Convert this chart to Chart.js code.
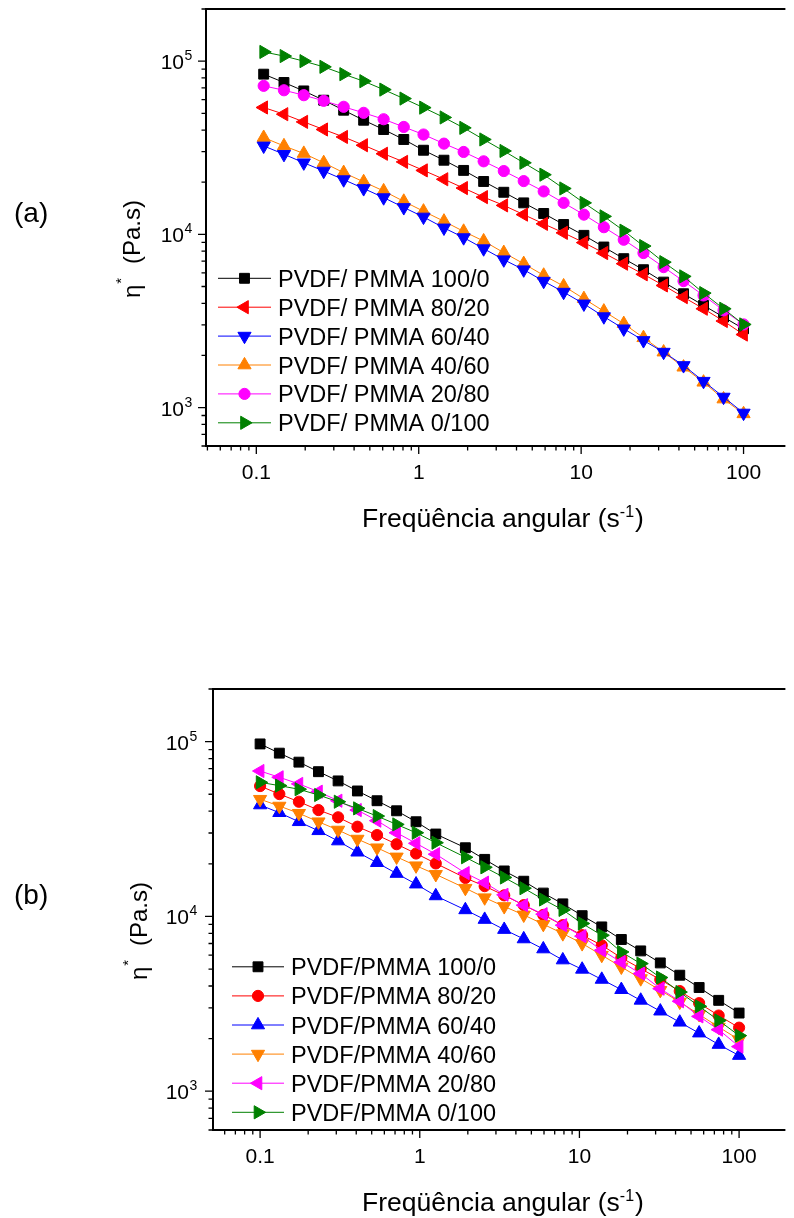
<!DOCTYPE html>
<html>
<head>
<meta charset="utf-8">
<title>Viscosidade complexa PVDF/PMMA</title>
<script src="https://cdn.jsdelivr.net/npm/chart.js@4.4.1/dist/chart.umd.min.js"></script>
<style>
  html, body { margin: 0; padding: 0; background: #fff; overflow: hidden; }
  body { position: relative; width: 794px; height: 1218px; }
  .panel { position: absolute; left: 0; }
  #panelA { top: 0; }
  #panelB { top: 600px; }
</style>
</head>
<body>
<div class="panel" id="panelA"><canvas id="chartA" width="794" height="560"></canvas></div>
<div class="panel" id="panelB"><canvas id="chartB" width="794" height="618"></canvas></div>
<script>
// ---- angular frequency (s^-1) ----
const freqA = [0.111, 0.148, 0.196, 0.26, 0.345, 0.458, 0.608, 0.809, 1.07, 1.43, 1.89, 2.51, 3.34,
  4.43, 5.88, 7.8, 10.4, 13.8, 18.3, 24.2, 32.2, 42.7, 56.7, 75.3, 100];
const freqB = [0.1, 0.132, 0.175, 0.232, 0.308, 0.407, 0.54, 0.716, 0.948, 1.26, 1.93, 2.55, 3.38,
  4.48, 5.94, 7.87, 10.4, 13.8, 18.3, 24.2, 32.1, 42.5, 56.2, 74.5, 100];

// ---- legend texts ----
const blendsA = ['PVDF/ PMMA 100/0', 'PVDF/ PMMA 80/20', 'PVDF/ PMMA 60/40',
  'PVDF/ PMMA 40/60', 'PVDF/ PMMA 20/80', 'PVDF/ PMMA 0/100'];
const blendsB = ['PVDF/PMMA 100/0', 'PVDF/PMMA 80/20', 'PVDF/PMMA 60/40',
  'PVDF/PMMA 40/60', 'PVDF/PMMA 20/80', 'PVDF/PMMA 0/100'];

// ---- complex viscosity eta* (Pa.s), panel (a) ----
const etaA_100_0 = [84100, 75300, 67300, 59500, 52100, 45600, 40300, 35300, 30600, 26800, 23400, 20200,
  17500, 15200, 13200, 11400, 9870, 8450, 7240, 6250, 5300, 4540, 3890, 3330, 2850];
const etaA_80_20 = [54000, 49400, 44600, 40300, 36500, 32700, 29200, 26200, 23400, 20800, 18500, 16400,
  14700, 13000, 11500, 10200, 8960, 7800, 6770, 5880, 5070, 4340, 3720, 3160, 2640];
const etaA_60_40 = [32400, 29000, 25900, 23200, 20700, 18400, 16300, 14300, 12600, 10900, 9580, 8270,
  7140, 6250, 5370, 4640, 3970, 3350, 2850, 2440, 2090, 1750, 1420, 1150, 930];
const etaA_40_60 = [36200, 32400, 29300, 25900, 22700, 20100, 17800, 15500, 13600, 11900, 10400, 9150,
  7840, 6770, 5800, 5030, 4250, 3600, 3050, 2530, 2090, 1710, 1400, 1120, 920];
const etaA_20_80 = [72000, 67900, 63600, 59000, 54500, 50300, 46200, 41700, 37700, 33400, 29900, 26400,
  23200, 20300, 17700, 15200, 13000, 11000, 9310, 7800, 6470, 5370, 4440, 3640, 3020];
const etaA_0_100 = [113000, 107000, 100000, 92700, 84100, 76600, 68500, 60800, 53900, 47300, 41200, 35300,
  30300, 25900, 22100, 18400, 15200, 12700, 10500, 8560, 6910, 5720, 4580, 3720, 3020];

// ---- complex viscosity eta* (Pa.s), panel (b) ----
const etaB_100_0 = [97000, 85900, 76300, 67300, 59600, 52200, 45900, 40200, 34800, 29600, 24700, 21200,
  18200, 15900, 13600, 11800, 10100, 8710, 7380, 6350, 5420, 4610, 3920, 3310, 2800];
const etaB_80_20 = [55700, 50100, 45300, 40600, 36900, 32600, 29200, 25900, 22900, 20100, 16600, 14900,
  13200, 11600, 10200, 8910, 7810, 6840, 5800, 5030, 4350, 3740, 3190, 2710, 2310];
const etaB_60_40 = [43400, 39200, 34800, 30900, 27000, 23300, 20300, 17600, 15300, 13100, 10900, 9600,
  8410, 7430, 6510, 5630, 4980, 4360, 3810, 3310, 2870, 2480, 2150, 1850, 1600];
const etaB_40_60 = [46800, 42800, 38900, 34800, 31200, 27700, 24700, 21900, 19500, 17400, 14500, 12800,
  11400, 10200, 9020, 7980, 7000, 6000, 5140, 4410, 3780, 3240, 2750, 2330, 1970];
const etaB_20_80 = [67900, 62500, 57300, 51700, 45900, 40600, 35300, 30100, 26200, 22700, 17700, 15600,
  13300, 11600, 10300, 8910, 7710, 6400, 5480, 4710, 3860, 3270, 2680, 2250, 1800];
const etaB_0_100 = [58500, 56000, 53400, 49500, 45300, 41500, 37500, 33600, 30100, 26400, 21800, 19100,
  16700, 14500, 12500, 10900, 9110, 7800, 6260, 5370, 4470, 3690, 3060, 2540, 2080];

// ---- axis ticks ----
const xTickValues = [0.1, 1, 10, 100];
const xTickLabels = ['0.1', '1', '10', '100'];
const yTickValues = [1e3, 1e4, 1e5];
const yTickExponents = ['3', '4', '5'];

const FONT = "'Liberation Sans', Arial, Helvetica, sans-serif";

// marker look for each blend (order = stacking, lower is drawn on top)
const stylesA = [
  { color: '#000000', shape: 'rect', rotation: 0, radius: 7, order: 6 },
  { color: '#ff0000', shape: 'triangle', rotation: -90, radius: 7.6, order: 5 },
  { color: '#0000ff', shape: 'triangle', rotation: 180, radius: 7.6, order: 3 },
  { color: '#ff8000', shape: 'triangle', rotation: 0, radius: 7.6, order: 4 },
  { color: '#ff00ff', shape: 'circle', rotation: 0, radius: 5.6, order: 2 },
  { color: '#008000', shape: 'triangle', rotation: 90, radius: 7.6, order: 1 }
];
const stylesB = [
  { color: '#000000', shape: 'rect', rotation: 0, radius: 7, order: 6 },
  { color: '#ff0000', shape: 'circle', rotation: 0, radius: 5.6, order: 5 },
  { color: '#0000ff', shape: 'triangle', rotation: 0, radius: 7.6, order: 4 },
  { color: '#ff8000', shape: 'triangle', rotation: 180, radius: 7.6, order: 3 },
  { color: '#ff00ff', shape: 'triangle', rotation: -90, radius: 7.6, order: 2 },
  { color: '#008000', shape: 'triangle', rotation: 90, radius: 7.6, order: 1 }
];

function drawMarker(ctx, st, x, y) {
  ctx.save();
  ctx.fillStyle = st.color;
  ctx.strokeStyle = st.color;
  ctx.lineWidth = 1;
  Chart.helpers.drawPoint(ctx, {
    pointStyle: st.shape, radius: st.radius, rotation: st.rotation, borderWidth: 1
  }, x, y);
  ctx.restore();
}

// Origin-like frame: axes with outward ticks, superscript labels, legend box text
const originAxes = {
  id: 'originAxes',
  afterDraw(chart, args, opts) {
    const ctx = chart.ctx;
    const area = chart.chartArea;
    const xs = chart.scales.x;
    const ys = chart.scales.y;
    ctx.save();
    ctx.strokeStyle = '#000';
    ctx.fillStyle = '#000';

    // left, bottom and top lines (the right side runs off the page)
    ctx.lineWidth = 2;
    ctx.beginPath();
    ctx.moveTo(area.right, area.top);
    ctx.lineTo(area.left, area.top);
    ctx.lineTo(area.left, area.bottom);
    ctx.lineTo(area.right, area.bottom);
    ctx.stroke();

    // major / minor ticks on both log axes
    ctx.lineWidth = 1.3;
    ctx.beginPath();
    for (let d = -2; d <= 5; d++) {
      for (let m = 1; m <= 9; m++) {
        const v = m * Math.pow(10, d);
        const len = m === 1 ? 8 : 4.5;
        if (v >= xs.min && v <= xs.max) {
          const px = xs.getPixelForValue(v);
          ctx.moveTo(px, area.bottom);
          ctx.lineTo(px, area.bottom + len);
        }
        if (v >= ys.min && v <= ys.max) {
          const py = ys.getPixelForValue(v);
          ctx.moveTo(area.left, py);
          ctx.lineTo(area.left - len, py);
        }
      }
    }
    ctx.stroke();

    // tick labels
    ctx.font = `21px ${FONT}`;
    ctx.textAlign = 'center';
    ctx.textBaseline = 'alphabetic';
    xTickValues.forEach((v, i) => {
      ctx.fillText(xTickLabels[i], xs.getPixelForValue(v), area.bottom + 32.5);
    });
    yTickValues.forEach((v, i) => {
      const py = ys.getPixelForValue(v);
      const xr = area.left - opts.yLabelGap;
      ctx.font = `21px ${FONT}`;
      ctx.textAlign = 'right';
      ctx.fillText('10', xr, py + 8);
      ctx.font = `14px ${FONT}`;
      ctx.textAlign = 'left';
      ctx.fillText(yTickExponents[i], xr + 0.5, py - 1);
    });

    // x title with superscript
    const base = 'Freqüência angular (s';
    ctx.font = `26.5px ${FONT}`;
    const wBase = ctx.measureText(base).width;
    const wClose = ctx.measureText(')').width;
    ctx.font = `16px ${FONT}`;
    const wSup = ctx.measureText('-1').width;
    let tx = opts.titleX - (wBase + wSup + 1 + wClose) / 2;
    const ty = area.bottom + 81;
    ctx.textAlign = 'left';
    ctx.font = `26.5px ${FONT}`;
    ctx.fillText(base, tx, ty);
    tx += wBase;
    ctx.font = `16px ${FONT}`;
    ctx.fillText('-1', tx, ty - 10.5);
    tx += wSup + 1;
    ctx.font = `26.5px ${FONT}`;
    ctx.fillText(')', tx, ty);

    // y title, rotated
    ctx.save();
    ctx.translate(area.left - 66.5, (area.top + area.bottom) / 2 + 21.5);
    ctx.rotate(-Math.PI / 2);
    ctx.font = `24px ${FONT}`;
    ctx.textAlign = 'left';
    ctx.fillText('η', -49, 0);
    const wEta = ctx.measureText('η').width;
    ctx.font = `15px ${FONT}`;
    ctx.fillText('*', -49 + wEta + 1, -14);
    ctx.font = `24px ${FONT}`;
    ctx.textAlign = 'right';
    ctx.fillText('(Pa.s)', 49, 0);
    ctx.restore();

    // panel letter
    ctx.font = `28px ${FONT}`;
    ctx.textAlign = 'left';
    ctx.fillText(opts.panel, 14, (area.top + area.bottom) / 2 - 5.5);

    // legend
    const lg = opts.legend;
    lg.labels.forEach((txt, i) => {
      const y = lg.y0 + i * lg.dy;
      const st = lg.styles[i];
      ctx.strokeStyle = st.color;
      ctx.lineWidth = 1;
      ctx.beginPath();
      ctx.moveTo(lg.lineStart, y);
      ctx.lineTo(lg.lineEnd, y);
      ctx.stroke();
      drawMarker(ctx, st, (lg.lineStart + lg.lineEnd) / 2, y);
      ctx.fillStyle = '#000';
      ctx.font = `23.5px ${FONT}`;
      ctx.textAlign = 'left';
      ctx.fillText(txt, lg.textX, y + 8.5);
    });
    ctx.restore();
  }
};

function buildChart(canvasId, freq, series, labels, styles, cfg) {
  const datasets = series.map((vals, i) => ({
    label: labels[i],
    data: freq.map((f, k) => ({ x: f, y: vals[k] })),
    showLine: true,
    borderColor: styles[i].color,
    backgroundColor: styles[i].color,
    borderWidth: 1,
    pointStyle: styles[i].shape,
    pointRotation: styles[i].rotation,
    pointRadius: styles[i].radius,
    pointBorderWidth: 1,
    order: styles[i].order
  }));

  return new Chart(document.getElementById(canvasId), {
    type: 'scatter',
    data: { datasets },
    options: {
      responsive: false,
      animation: false,
      devicePixelRatio: 1,
      layout: { padding: cfg.padding },
      scales: {
        x: { type: 'logarithmic', min: cfg.xMin, max: cfg.xMax, display: false },
        y: { type: 'logarithmic', min: 600, max: 200000, display: false }
      },
      plugins: {
        legend: { display: false },
        tooltip: { enabled: false },
        originAxes: {
          panel: cfg.panel,
          titleX: 503,
          yLabelGap: cfg.yLabelGap,
          legend: { ...cfg.legend, labels, styles }
        }
      }
    },
    plugins: [originAxes]
  });
}

buildChart('chartA', freqA,
  [etaA_100_0, etaA_80_20, etaA_60_40, etaA_40_60, etaA_20_80, etaA_0_100],
  blendsA, stylesA, {
    panel: '(a)',
    padding: { left: 206, top: 9, right: 0, bottom: 114 },
    xMin: 0.049, xMax: 181,
    yLabelGap: 22,
    legend: { lineStart: 218, lineEnd: 271, textX: 278, y0: 278.3, dy: 28.9 }
  });

buildChart('chartB', freqB,
  [etaB_100_0, etaB_80_20, etaB_60_40, etaB_40_60, etaB_20_80, etaB_0_100],
  blendsB, stylesB, {
    panel: '(b)',
    padding: { left: 213, top: 89, right: 0, bottom: 88 },
    xMin: 0.0507, xMax: 195,
    yLabelGap: 24,
    legend: { lineStart: 232, lineEnd: 284, textX: 291, y0: 366.8, dy: 29.1 }
  });
</script>
</body>
</html>
